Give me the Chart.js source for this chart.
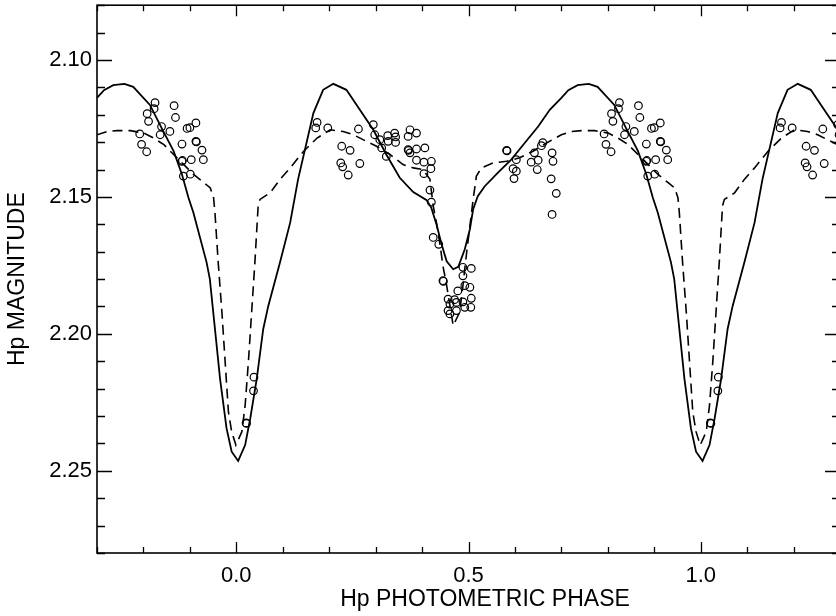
<!DOCTYPE html>
<html>
<head>
<meta charset="utf-8">
<script src="https://cdn.jsdelivr.net/npm/chart.js@4"></script>
<style>
  html, body { margin: 0; padding: 0; background: #fff; overflow: hidden; }
  #wrap { width: 836px; height: 616px; overflow: hidden; }
</style>
</head>
<body>
<div id="wrap"><canvas id="lc" width="850" height="616"></canvas></div>
<script>
// one cycle of each curve (phase, Hp magnitude)
const solidPhase = [-0.300, -0.285, -0.265, -0.241, -0.222, -0.186, -0.161, -0.135, -0.117, -0.103,
  -0.0925, -0.064, -0.057, -0.046, -0.035, -0.021, -0.010, 0.004, 0.019, 0.030,
  0.044, 0.058, 0.069, 0.094, 0.116, 0.133, 0.166, 0.187, 0.209, 0.237,
  0.266, 0.295, 0.323, 0.352, 0.381, 0.410, 0.420, 0.431, 0.442, 0.453,
  0.467, 0.478, 0.492, 0.503, 0.510, 0.520, 0.535, 0.563, 0.592, 0.621,
  0.650, 0.675];
const solidMag = [2.1138, 2.1110, 2.1092, 2.1087, 2.1098, 2.1164, 2.1248, 2.1333, 2.1418, 2.1503,
  2.1557, 2.1739, 2.1800, 2.1982, 2.2164, 2.2345, 2.2430, 2.2464, 2.2406, 2.2309,
  2.2164, 2.1982, 2.1897, 2.1739, 2.1594, 2.1436, 2.1194, 2.1109, 2.1087, 2.1109,
  2.1182, 2.1255, 2.1345, 2.1430, 2.1482, 2.1512, 2.1540, 2.1600, 2.1673, 2.1735,
  2.1764, 2.1755, 2.1691, 2.1618, 2.1545, 2.1497, 2.1461, 2.1412, 2.1364, 2.1303,
  2.1243, 2.1182];

const dashedPhase = [-0.300, -0.278, -0.257, -0.228, -0.199, -0.178, -0.156, -0.135, -0.113, -0.092,
  -0.070, -0.056, -0.049, -0.046, -0.039, -0.031, -0.024, -0.017, -0.010, -0.001,
  0.012, 0.019, 0.026, 0.033, 0.040, 0.047, 0.051, 0.073, 0.094, 0.116,
  0.145, 0.174, 0.202, 0.230, 0.252, 0.280, 0.302, 0.331, 0.359, 0.381,
  0.402, 0.417, 0.424, 0.431, 0.438, 0.445, 0.453, 0.460, 0.467, 0.481,
  0.488, 0.496, 0.503, 0.510, 0.517, 0.528, 0.553, 0.582, 0.610, 0.639,
  0.668];
const dashedMag = [2.1273, 2.1261, 2.1258, 2.1258, 2.1267, 2.1285, 2.1309, 2.1345, 2.1382, 2.1418,
  2.1448, 2.1467, 2.1503, 2.1557, 2.1739, 2.1921, 2.2103, 2.2285, 2.2357, 2.2406,
  2.2357, 2.2261, 2.2103, 2.1921, 2.1739, 2.1533, 2.1509, 2.1485, 2.1436, 2.1394,
  2.1333, 2.1285, 2.1255, 2.1261, 2.1273, 2.1297, 2.1315, 2.1345, 2.1382, 2.1394,
  2.1400, 2.1436, 2.1533, 2.1594, 2.1667, 2.1752, 2.1824, 2.1897, 2.1970, 2.1921,
  2.1824, 2.1703, 2.1606, 2.1509, 2.1424, 2.1394, 2.1376, 2.1370, 2.1357, 2.1333,
  2.1303];

// Hipparcos observations
const obsPhase = [-0.175, -0.192, -0.189, -0.177, -0.134, -0.131, -0.161, -0.208, -0.204, -0.193,
  -0.164, -0.143, -0.117, -0.106, -0.100, -0.087, -0.087, -0.086, -0.074, -0.071,
  -0.097, -0.116, -0.117, -0.114, -0.099,
  0.038, 0.037, 0.021, 0.022,
  0.174, 0.171, 0.197, 0.227, 0.245, 0.225, 0.229, 0.241, 0.266, 0.263,
  0.295, 0.298, 0.309, 0.313, 0.323, 0.326, 0.327, 0.341, 0.343, 0.343,
  0.374, 0.388, 0.370, 0.370, 0.371, 0.374, 0.388, 0.406, 0.388, 0.404,
  0.420, 0.419, 0.404, 0.417, 0.420, 0.424, 0.436, 0.445, 0.446,
  0.488, 0.506, 0.488, 0.492, 0.503, 0.477, 0.506, 0.456, 0.470, 0.460,
  0.474, 0.488, 0.492, 0.505, 0.456, 0.474, 0.460,
  0.582, 0.583, 0.603, 0.596, 0.603, 0.598, 0.642, 0.650, 0.635, 0.648,
  0.657, 0.660, 0.680, 0.682, 0.678, 0.689, 0.680];
const obsMag = [2.1156, 2.1196, 2.1224, 2.1178, 2.1167, 2.1210, 2.1243, 2.1270, 2.1308, 2.1335,
  2.1273, 2.1261, 2.1307, 2.1250, 2.1247, 2.1230, 2.1297, 2.1299, 2.1329, 2.1364,
  2.1364, 2.1367, 2.1370, 2.1424, 2.1417,
  2.2158, 2.2208, 2.2325, 2.2327,
  2.1228, 2.1248, 2.1248, 2.1315, 2.1330, 2.1376, 2.1390, 2.1420, 2.1378, 2.1252,
  2.1236, 2.1273, 2.1291, 2.1321, 2.1352, 2.1276, 2.1297, 2.1267, 2.1281, 2.1301,
  2.1255, 2.1267, 2.1279, 2.1327, 2.1330, 2.1339, 2.1325, 2.1321, 2.1366, 2.1373,
  2.1370, 2.1397, 2.1415, 2.1475, 2.1519, 2.1648, 2.1673, 2.1806, 2.1808,
  2.1757, 2.1761, 2.1788, 2.1824, 2.1830, 2.1843, 2.1870, 2.1873, 2.1875, 2.1891,
  2.1885, 2.1883, 2.1903, 2.1903, 2.1915, 2.1915, 2.1927,
  2.1330, 2.1332, 2.1364, 2.1397, 2.1406, 2.1433, 2.1339, 2.1366, 2.1373, 2.1400,
  2.1313, 2.1302, 2.1339, 2.1370, 2.1434, 2.1487, 2.1564];

const xTicks = [0.0, 0.5, 1.0];
const yTicks = [2.10, 2.15, 2.20, 2.25];

// the plot repeats each phase one cycle later
function folded(ph, mag) {
  const pts = ph.map((p, i) => ({ x: p, y: mag[i] }));
  return pts.concat(pts.map(p => ({ x: p.x + 1, y: p.y })));
}

Chart.defaults.font.family = '"Liberation Sans", Arial, Helvetica, sans-serif';
Chart.defaults.font.size = 22;
Chart.defaults.color = '#000';

// box round the plot, inward ticks on all four sides
const frameTicks = {
  id: 'frameTicks',
  afterDatasetsDraw(chart) {
    const { ctx, chartArea: a, scales: { x, y } } = chart;
    ctx.save();
    ctx.strokeStyle = '#000';
    ctx.lineWidth = 1.6;
    ctx.strokeRect(a.left, a.top, a.right - a.left, a.bottom - a.top);
    ctx.lineWidth = 1.3;
    ctx.beginPath();
    for (let i = -3; i <= 13; i++) {
      const px = Math.round(x.getPixelForValue(i / 10)) + 0.5;
      const len = i % 5 === 0 ? 11 : 6;
      ctx.moveTo(px, a.bottom); ctx.lineTo(px, a.bottom - len);
      ctx.moveTo(px, a.top); ctx.lineTo(px, a.top + len);
    }
    for (let i = 208; i <= 228; i++) {
      const py = Math.round(y.getPixelForValue(i / 100)) + 0.5;
      const len = i % 5 === 0 ? 15 : 8;
      ctx.moveTo(a.left, py); ctx.lineTo(a.left + len, py);
      ctx.moveTo(a.right, py); ctx.lineTo(a.right - len, py);
    }
    ctx.stroke();
    // x axis title
    ctx.fillStyle = '#000';
    ctx.font = '23px "Liberation Sans", Arial, sans-serif';
    ctx.textAlign = 'center';
    ctx.textBaseline = 'middle';
    ctx.fillText('Hp PHOTOMETRIC PHASE', 485, 600);
    ctx.restore();
  }
};

new Chart(document.getElementById('lc'), {
  type: 'scatter',
  data: {
    datasets: [
      {
        label: 'model (solid)',
        data: folded(solidPhase, solidMag),
        showLine: true,
        borderColor: '#000',
        borderWidth: 1.8,
        pointRadius: 0,
        tension: 0
      },
      {
        label: 'model (dashed)',
        data: folded(dashedPhase, dashedMag),
        showLine: true,
        borderColor: '#000',
        borderWidth: 1.6,
        borderDash: [10, 6],
        pointRadius: 0,
        tension: 0
      },
      {
        label: 'Hp',
        data: folded(obsPhase, obsMag),
        showLine: false,
        pointStyle: 'circle',
        pointRadius: 3.8,
        pointBorderWidth: 1.2,
        pointBorderColor: '#000',
        pointBackgroundColor: 'rgba(0,0,0,0)'
      }
    ]
  },
  options: {
    responsive: false,
    animation: false,
    devicePixelRatio: 1,
    layout: { padding: { left: 0, top: 5, right: 10, bottom: 0 } },
    plugins: { legend: { display: false }, tooltip: { enabled: false } },
    scales: {
      x: {
        type: 'linear',
        min: -0.3,
        max: 1.3,
        grid: { display: false, drawTicks: false },
        border: { display: false },
        afterBuildTicks: s => { s.ticks = xTicks.map(v => ({ value: v })); },
        afterFit: s => { s.height = 63; s.paddingLeft = 0; s.paddingRight = 0; },
        ticks: { padding: 10, callback: v => v.toFixed(1) }
      },
      y: {
        type: 'linear',
        reverse: true,
        min: 2.08,
        max: 2.28,
        grid: { display: false, drawTicks: false },
        border: { display: false },
        afterBuildTicks: s => { s.ticks = yTicks.map(v => ({ value: v })); },
        afterFit: s => { s.width = 97; s.paddingTop = 0; s.paddingBottom = 0; },
        ticks: { padding: 5, callback: v => v.toFixed(2) },
        title: { display: true, text: 'Hp MAGNITUDE', font: { size: 23 }, padding: { top: 4, bottom: 0 } }
      }
    }
  },
  plugins: [frameTicks]
});
</script>
</body>
</html>
